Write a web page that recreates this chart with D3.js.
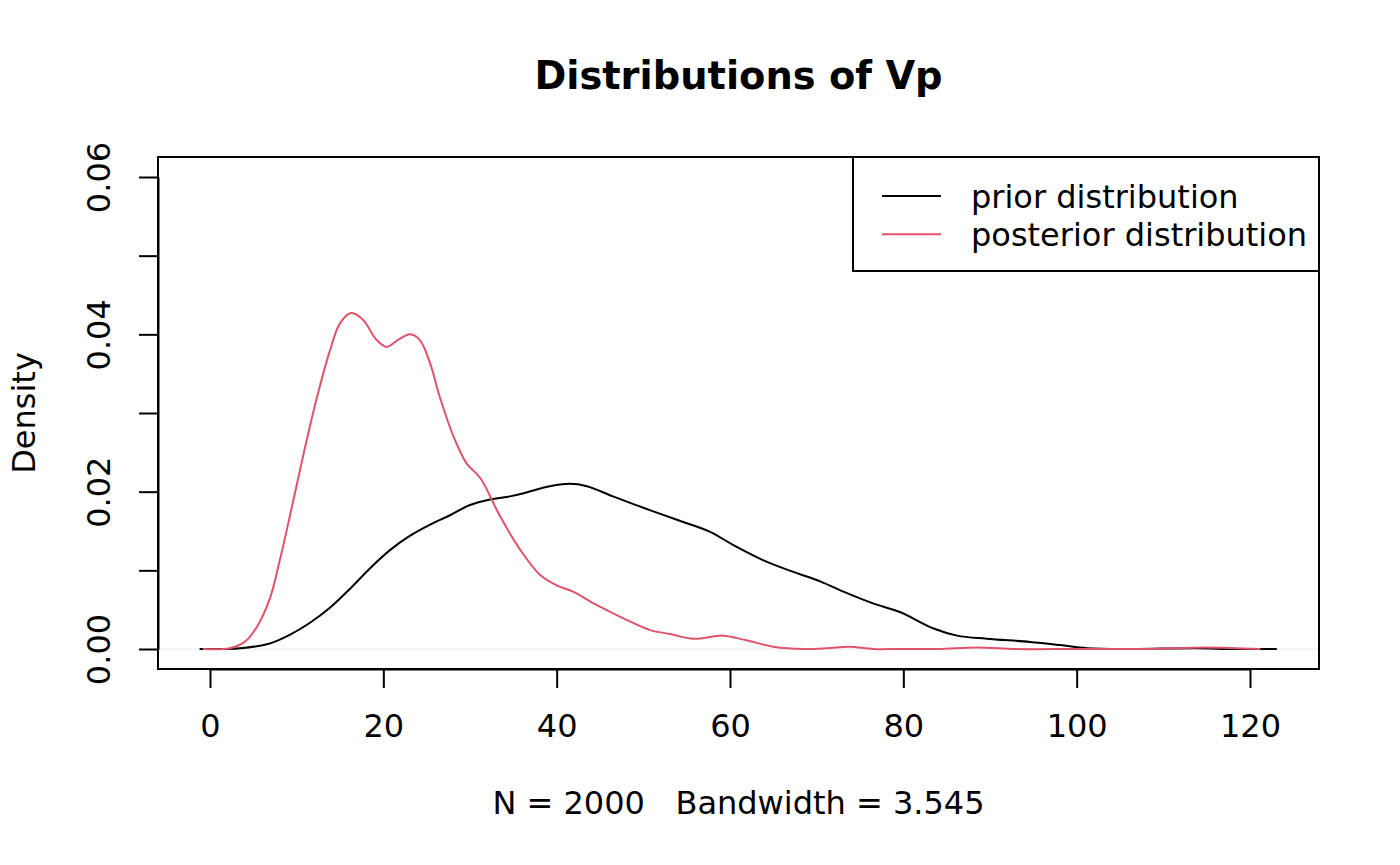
<!DOCTYPE html>
<html lang="en">
<head>
  <meta charset="utf-8">
  <title>Distributions of Vp</title>
  <script src="https://d3js.org/d3.v7.min.js"></script>
  <style>
    body { margin: 0; background: #fff; }
    text { font-family: "DejaVu Sans", sans-serif; fill: #000; white-space: pre; }
  </style>
</head>
<body>
<div id="chart"></div>
<script>

  // density estimates
  var priorX = [-1.2, 3.5, 6.9, 9.2, 11.5, 13.8, 16.2, 18.5, 20.8, 23.1, 25.4, 27.7, 30.0, 32.3, 34.6, 36.2, 38.8, 41.5, 43.5, 46.5,
                50.4, 54.2, 57.7, 60.4, 63.8, 67.3, 70.4, 73.5, 76.5, 79.6, 83.5, 86.2, 89.6, 94.6, 98.1, 101.2, 106.2, 113.8, 118, 123.1];
  var priorY = [0, 0.0001, 0.0007, 0.0018, 0.0033, 0.0052, 0.0077, 0.0103, 0.0126, 0.0144, 0.0158, 0.0170, 0.0183, 0.0190, 0.0194, 0.0198, 0.0206, 0.0210, 0.0207, 0.0194,
                0.0178, 0.0163, 0.0149, 0.0132, 0.0113, 0.0098, 0.0086, 0.0071, 0.0058, 0.0047, 0.0026, 0.0017, 0.0013, 0.0009, 0.0005, 0.0001, 0.0000, 0.0001, 0.0000, 0];

  var postX = [-0.8, 2.3, 4.0, 5.4, 6.9, 8.1, 9.2, 10.8, 12.3, 13.8, 15.0, 16.3, 17.7, 19.2, 20.4, 21.7, 23.1, 24.2, 25.4, 26.5,
               28.1, 29.6, 31.2, 33.5, 35.8, 38.1, 40.0, 41.9, 44.6, 47.7, 50.8, 53.1, 55.8, 59.2, 61.9, 65.0, 68.5, 71.2, 73.8, 76.5,
               79.6, 84, 88.5, 93, 100, 108, 115, 121.2];
  var postY = [0, 0.0001, 0.0009, 0.0028, 0.0064, 0.0115, 0.0168, 0.0248, 0.0318, 0.0378, 0.0414, 0.0427, 0.0418, 0.0393, 0.0384, 0.0393, 0.0400, 0.0393, 0.0363, 0.0321,
               0.0270, 0.0236, 0.0217, 0.0168, 0.0126, 0.0094, 0.0081, 0.0073, 0.0056, 0.0039, 0.0024, 0.0019, 0.0013, 0.0017, 0.0011, 0.0003, 0.0000, 0.0001, 0.0003, 0.0000,
               0.0000, 0.0000, 0.0002, 0.0000, 0.0000, 0.0000, 0.0002, 0];

  var xTicks = [0, 20, 40, 60, 80, 100, 120];
  var yTicks = [0, 0.01, 0.02, 0.03, 0.04, 0.05, 0.06];
  var yLabelled = [0, 0.02, 0.04, 0.06];
  var legendLabels = ["prior distribution", "posterior distribution"];
  var legendColors = ["#000000", "#DF536B"];

  var title = "Distributions of Vp";
  var subTitle = "N = 2000   Bandwidth = 3.545";
  var yTitle = "Density";

  // layout
  var W = 1400, H = 865;
  var box = {left: 158, right: 1319, top: 157, bottom: 669};
  var fontSize = 32;

  var svg = d3.select("#chart")
    .append("svg")
      .attr("width", W)
      .attr("height", H);

  var x = d3.scaleLinear().domain([0, 120]).range([210, 1250]);
  var y = d3.scaleLinear().domain([0, 0.06]).range([649, 177]);

  // zero line
  svg.append("line")
    .attr("x1", box.left).attr("x2", box.right)
    .attr("y1", y(0)).attr("y2", y(0))
    .attr("stroke", "#e8e8e8")
    .attr("stroke-width", 1);

  // curves
  var line = d3.line()
    .x(function(d) { return x(d[0]); })
    .y(function(d) { return y(d[1]); })
    .curve(d3.curveCatmullRom.alpha(0.5));

  var series = [
    d3.zip(priorX, priorY),
    d3.zip(postX, postY)
  ];
  series.forEach(function(s, i) {
    svg.append("path")
      .datum(s)
      .attr("fill", "none")
      .attr("stroke", legendColors[i])
      .attr("stroke-width", 2)
      .attr("d", line);
  });

  // plot box
  svg.append("rect")
    .attr("x", box.left).attr("y", box.top)
    .attr("width", box.right - box.left)
    .attr("height", box.bottom - box.top)
    .attr("fill", "none")
    .attr("stroke", "#000")
    .attr("stroke-width", 2);

  // x axis
  var gx = svg.append("g")
    .attr("transform", "translate(0," + box.bottom + ")")
    .call(d3.axisBottom(x).tickValues(xTicks).tickSize(19).tickSizeOuter(0));
  gx.select(".domain").attr("stroke-width", 2);
  gx.selectAll(".tick line").attr("stroke-width", 2);
  gx.selectAll(".tick text")
    .attr("y", 68).attr("dy", 0)
    .attr("font-size", fontSize)
    .attr("font-family", "DejaVu Sans");

  // y axis (rotated labels, every other tick labelled)
  var gy = svg.append("g")
    .attr("transform", "translate(" + box.left + ",0)")
    .call(d3.axisLeft(y).tickValues(yTicks).tickSize(19).tickSizeOuter(0)
      .tickFormat(function(d) {
        return yLabelled.some(function(v) { return Math.abs(v - d) < 1e-9; }) ? d3.format(".2f")(d) : "";
      }));
  gy.select(".domain").attr("stroke-width", 2);
  gy.selectAll(".tick line").attr("stroke-width", 2);
  gy.selectAll(".tick text")
    .attr("x", 0).attr("y", 0).attr("dy", 0)
    .attr("text-anchor", "middle")
    .attr("transform", "translate(-48,0) rotate(-90)")
    .attr("font-size", fontSize)
    .attr("font-family", "DejaVu Sans");

  // titles
  var cx = (box.left + box.right) / 2;
  svg.append("text")
    .attr("x", cx).attr("y", 89)
    .attr("text-anchor", "middle")
    .attr("font-size", 38.4)
    .attr("font-weight", "bold")
    .text(title);

  svg.append("text")
    .attr("x", cx).attr("y", 814)
    .attr("text-anchor", "middle")
    .attr("font-size", fontSize)
    .text(subTitle);

  svg.append("text")
    .attr("transform", "translate(35," + ((box.top + box.bottom) / 2) + ") rotate(-90)")
    .attr("text-anchor", "middle")
    .attr("font-size", fontSize)
    .text(yTitle);

  // legend
  var legend = svg.append("g");
  legend.append("rect")
    .attr("x", 853).attr("y", box.top)
    .attr("width", box.right - 853).attr("height", 114)
    .attr("fill", "#fff")
    .attr("stroke", "#000")
    .attr("stroke-width", 2);

  var items = legend.selectAll("g.item")
    .data(legendLabels).enter().append("g")
      .attr("class", "item")
      .attr("transform", function(d, i) { return "translate(0," + (196 + i * 38.3) + ")"; });
  items.append("line")
    .attr("x1", 882).attr("x2", 941)
    .attr("stroke", function(d, i) { return legendColors[i]; })
    .attr("stroke-width", 2);
  items.append("text")
    .attr("x", 971).attr("y", 12)
    .attr("font-size", fontSize)
    .text(function(d) { return d; });

</script>
</body>
</html>
